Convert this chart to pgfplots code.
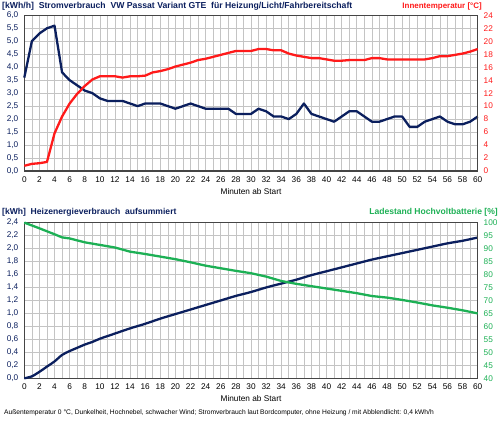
\documentclass[border=0pt]{standalone}
\usepackage{pgfplots}
\pgfplotsset{compat=1.18}
\usepackage{pgfplotstable}
\usepackage{fontspec}
\setmainfont{Liberation Sans}
\definecolor{navy}{HTML}{0B1F5E}
\definecolor{rd}{HTML}{FF1A1A}
\definecolor{gn}{HTML}{1DB055}
\definecolor{framec}{HTML}{454545}
\definecolor{gridc}{HTML}{C4C4C4}

\pgfplotstableread{
t p
0 3.6
1 5.0
2 5.3
3 5.5
4 5.6
5 3.8
6 3.5
7 3.3
8 3.1
9 3.0
10 2.8
11 2.7
12 2.7
13 2.7
14 2.6
15 2.5
16 2.6
17 2.6
18 2.6
19 2.5
20 2.4
21 2.5
22 2.6
23 2.5
24 2.4
25 2.4
26 2.4
27 2.4
28 2.2
29 2.2
30 2.2
31 2.4
32 2.3
33 2.1
34 2.1
35 2.0
36 2.2
37 2.6
38 2.2
39 2.1
40 2.0
41 1.9
42 2.1
43 2.3
44 2.3
45 2.1
46 1.9
47 1.9
48 2.0
49 2.1
50 2.1
51 1.7
52 1.7
53 1.9
54 2.0
55 2.1
56 1.9
57 1.8
58 1.8
59 1.9
60 2.1
}\strom

\pgfplotstableread{
t T
0 0.8
1 1.1
2 1.2
3 1.4
4 5.8
5 8.4
6 10.4
7 11.9
8 13.1
9 14.1
10 14.6
11 14.6
12 14.6
13 14.4
14 14.6
15 14.6
16 14.7
17 15.2
18 15.4
19 15.7
20 16.1
21 16.4
22 16.7
23 17.1
24 17.3
25 17.6
26 17.9
27 18.2
28 18.5
29 18.5
30 18.5
31 18.8
32 18.8
33 18.6
34 18.6
35 18.1
36 17.8
37 17.6
38 17.4
39 17.4
40 17.2
41 17.0
42 17.0
43 17.1
44 17.1
45 17.1
46 17.4
47 17.4
48 17.2
49 17.2
50 17.2
51 17.2
52 17.2
53 17.2
54 17.4
55 17.7
56 17.7
57 17.9
58 18.1
59 18.4
60 18.8
}\temp

\pgfplotstableread{
t E
0 0.00
1 0.03
2 0.10
3 0.18
4 0.26
5 0.36
6 0.42
7 0.47
8 0.52
9 0.56
10 0.61
12 0.69
14 0.77
16 0.84
18 0.92
20 0.99
22 1.06
24 1.13
26 1.20
28 1.27
30 1.33
32 1.40
34 1.46
36 1.52
38 1.59
40 1.65
42 1.71
44 1.77
46 1.83
48 1.88
50 1.93
52 1.98
54 2.03
56 2.08
58 2.12
60 2.17
}\energie

\pgfplotstableread{
t S
0 100.0
2 97.8
4 95.5
5 94.3
6 93.9
8 92.4
10 91.4
12 90.4
14 88.8
16 87.9
18 86.9
20 85.9
22 84.7
24 83.4
26 82.4
28 81.4
30 80.5
32 79.2
34 77.5
36 76.4
38 75.5
40 74.6
42 73.7
44 72.8
46 71.7
48 71.1
50 70.2
52 69.2
54 68.1
56 67.2
58 66.2
60 65.0
}\soc

\begin{document}
\begin{tikzpicture}
\path[use as bounding box] (0bp,0bp) rectangle (500bp,421bp);
\pgfplotsset{
  base/.style={
    scale only axis, width=453.4bp, height=155.7bp,
    xmin=0, xmax=60,
    tick style={draw=none},
    axis line style={framec, line width=1.2pt},
    tick label style={font=\fontsize{8.3}{9}\selectfont},
    /pgf/number format/assume math mode=true,
    clip=false,
  },
  mainax/.style={
    base,
    xtick={0,2,...,60}, minor xtick={1,3,...,59},
    xmajorgrids, xminorgrids, ymajorgrids,
    major grid style={gridc, line width=0.6pt},
    minor grid style={gridc, line width=0.6pt},
    yticklabel style={navy, xshift=-2.5bp, /pgf/number format/.cd, use comma, fixed, fixed zerofill, precision=1},
    xticklabel style={black, yshift=-2bp, /pgf/number format/.cd, fixed, precision=0},
  },
  twinax/.style={
    base,
    axis y line*=right, axis x line=none,
    yticklabel style={xshift=2.5bp},
  },
}
% ---------- top chart ----------
\begin{axis}[mainax, at={(24.3bp,250bp)}, anchor=south west,
  ymin=0, ymax=6, ytick={0,0.5,...,6}]
\addplot[navy, line width=2.3pt, line join=round] table[x=t,y=p]{\strom};
\end{axis}
\begin{axis}[twinax, at={(24.3bp,250bp)}, anchor=south west,
  ymin=0, ymax=24, ytick={0,2,...,24}, yticklabel style={rd}]
\addplot[rd, line width=2.3pt, line join=round] table[x=t,y=T]{\temp};
\end{axis}
% ---------- bottom chart ----------
\begin{axis}[mainax, at={(24.3bp,42.7bp)}, anchor=south west,
  ymin=0, ymax=2.4, ytick={0,0.2,...,2.4}]
\addplot[navy, line width=2.3pt, line join=round, smooth] table[x=t,y=E]{\energie};
\end{axis}
\begin{axis}[twinax, at={(24.3bp,42.7bp)}, anchor=south west,
  ymin=40, ymax=100, ytick={40,45,...,100}, yticklabel style={gn}]
\addplot[gn, line width=2.3pt, line join=round] table[x=t,y=S]{\soc};
\end{axis}
% ---------- texts ----------
\node[anchor=west, navy, font=\bfseries\fontsize{8.7}{9}\selectfont, inner sep=0] at (2bp,415bp)
  {[kWh/h]\ \ Stromverbrauch\ \ VW Passat Variant GTE\ \ für Heizung/Licht/Fahrbereitschaft};
\node[anchor=east, rd, font=\bfseries\fontsize{8.0}{9}\selectfont, inner sep=0] at (482bp,415bp)
  {Innentemperatur [°C]};
\node[anchor=center, font=\fontsize{8.3}{9}\selectfont, inner sep=0] at (251bp,229bp) {Minuten ab Start};
\node[anchor=west, navy, font=\bfseries\fontsize{8.6}{9}\selectfont, inner sep=0] at (2bp,209bp)
  {[kWh]\ \ Heizenergieverbrauch\ \ aufsummiert};
\node[anchor=east, gn, font=\bfseries\fontsize{8.6}{9}\selectfont, inner sep=0] at (498bp,209bp)
  {Ladestand Hochvoltbatterie [\%]};
\node[anchor=center, font=\fontsize{8.3}{9}\selectfont, inner sep=0] at (251bp,22bp) {Minuten ab Start};
\node[anchor=west, font=\fontsize{6.7}{7}\selectfont, inner sep=0] at (4bp,8bp)
  {Außentemperatur 0 °C, Dunkelheit, Hochnebel, schwacher Wind; Stromverbrauch laut Bordcomputer, ohne Heizung / mit Abblendlicht: 0,4 kWh/h};
\end{tikzpicture}
\end{document}
